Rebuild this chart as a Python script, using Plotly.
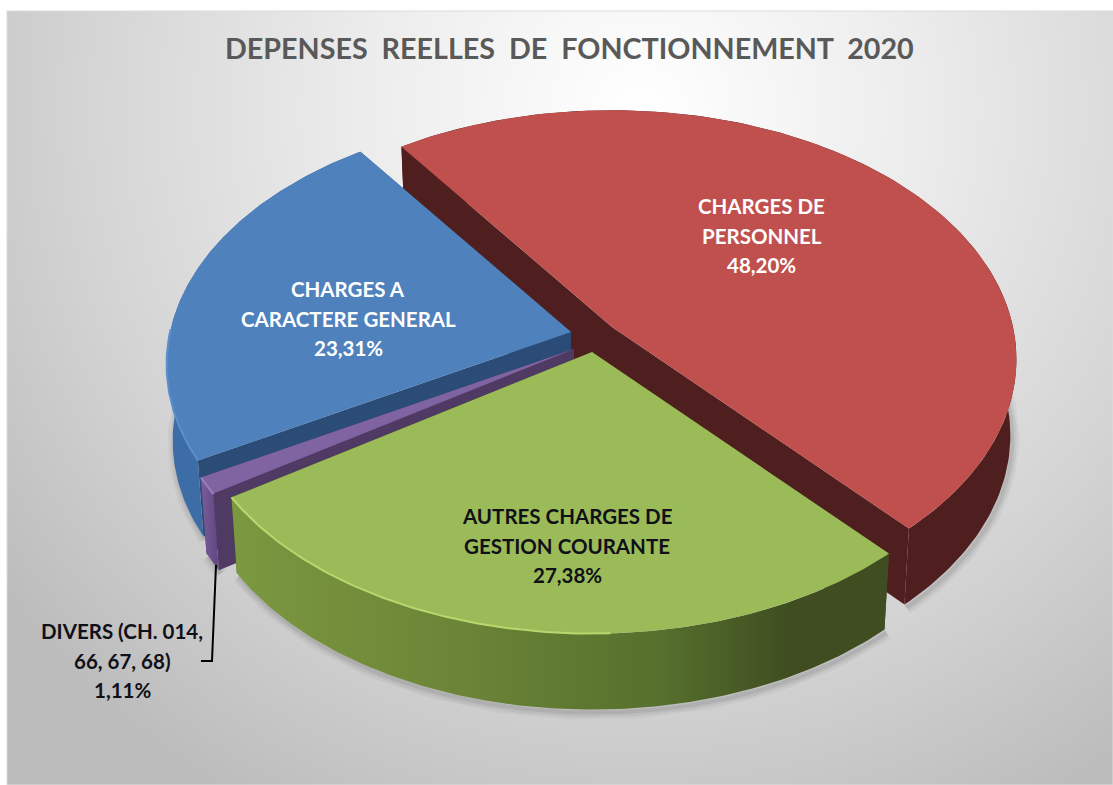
import base64
import numpy as np
import plotly.graph_objects as go

# ---- data -----------------------------------------------------------------
title_text = "DEPENSES  REELLES  DE  FONCTIONNEMENT  2020"
categories = ["CHARGES DE PERSONNEL", "AUTRES CHARGES DE GESTION COURANTE",
              "DIVERS (CH. 014, 66, 67, 68)", "CHARGES A CARACTERE GENERAL"]
shares = [48.20, 27.38, 1.11, 23.31]
share_labels = ["48,20%", "27,38%", "1,11%", "23,31%"]
label_lines = [["CHARGES DE", "PERSONNEL"],
               ["AUTRES CHARGES DE", "GESTION COURANTE"],
               ["DIVERS (CH. 014,", "66, 67, 68)"],
               ["CHARGES A", "CARACTERE GENERAL"]]

# ---- styling / layout ------------------------------------------------------
W, H = 1113, 785
START = 234.5            # screen-clockwise angle where the first slice starts
RX, RY, PERSP = 401.0, 245.0, 0.13
DEPTH, SHRINK_X, SHRINK_Y = 76.0, 0.985, 1.0
apexes = [(612, 327), (592, 352), (574, 349), (571, 332)]
top_colors = ["#C0504D", "#9BBB59", "#8064A2", "#4F81BD"]
wall_colors = ["#4F1E1E", "#3F4D20", "#4F3A63", "#2A4C76"]
side_scales = [
    [[0, "#4F1E1E"], [1, "#4F1E1E"]],
    [[0, "#7C9840"], [0.35, "#6B8437"], [0.65, "#56702D"], [0.85, "#3F4D20"], [1, "#3F4D20"]],
    [[0, "#7A5D9C"], [1, "#5F4680"]],
    [[0, "#3D6DA6"], [1, "#3D6DA6"]],
]
rim_colors = [None, "#B7D86E", "#9A7DBB", "#5B90CE"]
text_colors = ["white", "#101018", "#101018", "white"]
label_centers = [(761.5, 206), (567, 516), (122, 631), (348, 289)]
label_sizes = [20.5, 20.5, 20.5, 20.5]
LINE_STEP = 29.5
FONT = "Lato"

panel_svg = f"""<svg xmlns='http://www.w3.org/2000/svg' width='{W}' height='{H}'>
<defs><radialGradient id='g' gradientUnits='userSpaceOnUse' cx='640' cy='110' r='800'>
<stop offset='0' stop-color='#ffffff'/><stop offset='0.35' stop-color='#ececec'/>
<stop offset='0.7' stop-color='#d4d4d4'/><stop offset='1' stop-color='#bcbcbc'/>
</radialGradient></defs>
<rect x='7' y='11' width='{W-7}' height='{H-11}' fill='url(#g)' stroke='#dcdcdc' stroke-width='1'/>
</svg>"""
panel_uri = "data:image/svg+xml;base64," + base64.b64encode(panel_svg.encode()).decode()


def project(theta_deg, apex):
    t = np.radians(theta_deg)
    X, Y = np.cos(t), np.sin(t)
    s = 1.0 / (1.0 - PERSP * Y)
    return apex[0] + RX * X * s, apex[1] + RY * Y * s


def lower(x, y, apex):
    return (apex[0] + (np.asarray(x) - apex[0]) * SHRINK_X,
            apex[1] + (np.asarray(y) - apex[1]) * SHRINK_Y + DEPTH)


def poly(fig, x, y, color=None, gradient=None):
    kw = dict(fillgradient=gradient) if gradient else dict(fillcolor=color)
    fig.add_trace(go.Scatter(x=list(x), y=list(y), mode="lines", fill="toself",
                             line=dict(width=0), hoverinfo="skip", showlegend=False, **kw))


fig = go.Figure()
spans = np.array(shares) / sum(shares) * 360.0
starts = START + np.concatenate([[0], np.cumsum(spans)[:-1]])

# soft ground shadow under the whole pie
for wid, alpha in [(14, 0.05), (9, 0.07), (4, 0.10)]:
    for i, (a0, sp) in enumerate(zip(starts, spans)):
        th = np.linspace(a0, a0 + sp, 120)
        x, y = lower(*project(th, apexes[i]), apexes[i])
        fig.add_trace(go.Scatter(x=x + 2, y=y + 3, mode="lines",
                                 line=dict(width=wid, color=f"rgba(60,60,60,{alpha})"),
                                 hoverinfo="skip", showlegend=False))

for i in [0, 3, 2, 1]:   # painter's order, back to front
    a = apexes[i]
    th = np.linspace(starts[i], starts[i] + spans[i], 160)
    x, y = project(th, a)
    bx, by = lower(x, y, a)
    abx, aby = lower([a[0]], [a[1]], a)
    # cut faces
    poly(fig, [a[0], x[0], bx[0], abx[0]], [a[1], y[0], by[0], aby[0]], wall_colors[i])
    poly(fig, [a[0], x[-1], bx[-1], abx[0]], [a[1], y[-1], by[-1], aby[0]], wall_colors[i])
    # outer side
    poly(fig, np.r_[x, bx[::-1]], np.r_[y, by[::-1]],
         gradient=dict(type="horizontal", colorscale=side_scales[i]))
    # top face
    poly(fig, np.r_[a[0], x], np.r_[a[1], y], top_colors[i])
    # highlight along the front-left rim
    if rim_colors[i]:
        mask = (np.cos(np.radians(th)) < 0.05) & (np.sin(np.radians(th)) > -0.02)
        fig.add_trace(go.Scatter(x=x[mask], y=y[mask], mode="lines",
                                 line=dict(width=2, color=rim_colors[i]),
                                 hoverinfo="skip", showlegend=False))

annotations = [dict(x=569, y=48, xref="x", yref="y", text=title_text, showarrow=False,
                    font=dict(family=FONT, size=28.7, color="#595959", weight="bold"))]
for i, lines in enumerate(label_lines):
    cx, cy = label_centers[i]
    for j, line in enumerate(list(lines) + [share_labels[i]]):
        annotations.append(dict(x=cx, y=cy + j * LINE_STEP, xref="x", yref="y", text=line,
                                showarrow=False,
                                font=dict(family=FONT, size=label_sizes[i], color=text_colors[i], weight="bold")))

fig.update_layout(
    width=W, height=H, margin=dict(l=0, r=0, t=0, b=0),
    paper_bgcolor="white", plot_bgcolor="rgba(0,0,0,0)", showlegend=False,
    xaxis=dict(range=[0, W], visible=False, fixedrange=True),
    yaxis=dict(range=[H, 0], visible=False, fixedrange=True),
    images=[dict(source=panel_uri, xref="paper", yref="paper", x=0, y=1, sizex=1, sizey=1,
                 xanchor="left", yanchor="top", sizing="stretch", layer="below")],
    annotations=annotations,
    shapes=[dict(type="path", path="M 216 565 L 212 661 L 201 661",
                 line=dict(color="black", width=2), xref="x", yref="y")],
)

fig.write_html("out.html", config=dict(displayModeBar=False),
               post_script="document.body.style.margin='0';document.body.style.overflow='hidden';")
